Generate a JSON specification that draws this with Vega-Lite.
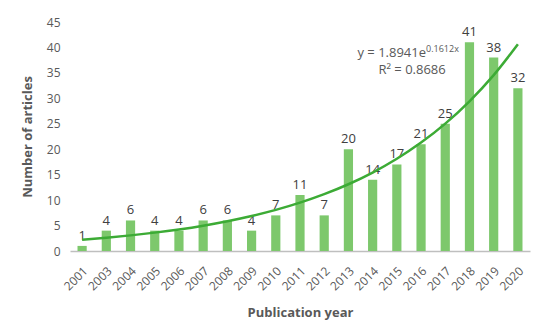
{
  "$schema": "https://vega.github.io/schema/vega-lite/v6.json",
  "autosize": "none",
  "width": 460,
  "height": 229,
  "padding": {"left": 70, "top": 22, "right": 20, "bottom": 84},
  "background": "white",
  "config": {
    "view": {"stroke": null},
    "font": "Open Sans"
  },
  "resolve": {"axis": {"y": "independent"}},
  "data": {
    "values": [
      {"year": "2001", "articles": 1, "trend": 2.23},
      {"year": "2003", "articles": 4, "trend": 2.61},
      {"year": "2004", "articles": 6, "trend": 3.07},
      {"year": "2005", "articles": 4, "trend": 3.61},
      {"year": "2006", "articles": 4, "trend": 4.24},
      {"year": "2007", "articles": 6, "trend": 4.98},
      {"year": "2008", "articles": 6, "trend": 5.85},
      {"year": "2009", "articles": 4, "trend": 6.88},
      {"year": "2010", "articles": 7, "trend": 8.08},
      {"year": "2011", "articles": 11, "trend": 9.5},
      {"year": "2012", "articles": 7, "trend": 11.17},
      {"year": "2013", "articles": 20, "trend": 13.12},
      {"year": "2014", "articles": 14, "trend": 15.42},
      {"year": "2015", "articles": 17, "trend": 18.12},
      {"year": "2016", "articles": 21, "trend": 21.3},
      {"year": "2017", "articles": 25, "trend": 25.03},
      {"year": "2018", "articles": 41, "trend": 29.42},
      {"year": "2019", "articles": 38, "trend": 34.57},
      {"year": "2020", "articles": 32, "trend": 40.63}
    ]
  },
  "encoding": {
    "x": {
      "field": "year",
      "type": "ordinal",
      "sort": null,
      "scale": {"paddingInner": 0.62, "paddingOuter": 0.31},
      "axis": {
        "title": "Publication year",
        "titleFont": "Open Sans",
        "titleFontSize": 13,
        "titleFontWeight": "bold",
        "titleColor": "#595959",
        "titlePadding": 14,
        "labelAngle": -45,
        "labelFontSize": 12,
        "labelColor": "#595959",
        "labelPadding": 14,
        "labelOverlap": false,
        "ticks": false,
        "domainColor": "#bfbfbf",
        "domainWidth": 1.3
      }
    }
  },
  "layer": [
    {
      "mark": {"type": "bar", "color": "#7dc86c"},
      "encoding": {
        "y": {
          "field": "articles",
          "type": "quantitative",
          "scale": {"domain": [0, 45]},
          "axis": {
            "title": "Number of articles",
            "titleFont": "Open Sans",
            "titleFontSize": 13,
            "titleFontWeight": "bold",
            "titleColor": "#595959",
            "titlePadding": 12,
            "values": [0, 5, 10, 15, 20, 25, 30, 35, 40, 45],
            "labelOverlap": false,
            "labelFontSize": 12,
            "labelColor": "#595959",
            "labelPadding": 10,
            "ticks": false,
            "domain": false,
            "grid": false
          }
        }
      }
    },
    {
      "mark": {"type": "text", "dy": -10, "fontSize": 13, "color": "#404040"},
      "encoding": {
        "y": {"field": "articles", "type": "quantitative", "axis": null},
        "text": {"field": "articles", "type": "quantitative"}
      }
    },
    {
      "mark": {"type": "line", "color": "#3cab35", "strokeWidth": 2.5, "interpolate": "monotone"},
      "encoding": {
        "y": {"field": "trend", "type": "quantitative", "axis": null}
      }
    },
    {
      "data": {"values": [{"year": "2016", "y": 38.9, "label": "y = 1.8941e"}]},
      "mark": {"type": "text", "align": "right", "baseline": "middle", "dx": 5, "fontSize": 13, "color": "#595959"},
      "encoding": {
        "y": {"field": "y", "type": "quantitative", "axis": null},
        "text": {"field": "label"}
      }
    },
    {
      "data": {"values": [{"year": "2016", "y": 39.6, "label": "0.1612x"}]},
      "mark": {"type": "text", "align": "left", "baseline": "middle", "dx": 5, "fontSize": 9, "color": "#595959"},
      "encoding": {
        "y": {"field": "y", "type": "quantitative", "axis": null},
        "text": {"field": "label"}
      }
    },
    {
      "data": {"values": [{"year": "2016", "y": 35.6, "label": "R² = 0.8686"}]},
      "mark": {"type": "text", "align": "center", "baseline": "middle", "dx": -9, "fontSize": 13, "color": "#595959"},
      "encoding": {
        "y": {"field": "y", "type": "quantitative", "axis": null},
        "text": {"field": "label"}
      }
    }
  ]
}
